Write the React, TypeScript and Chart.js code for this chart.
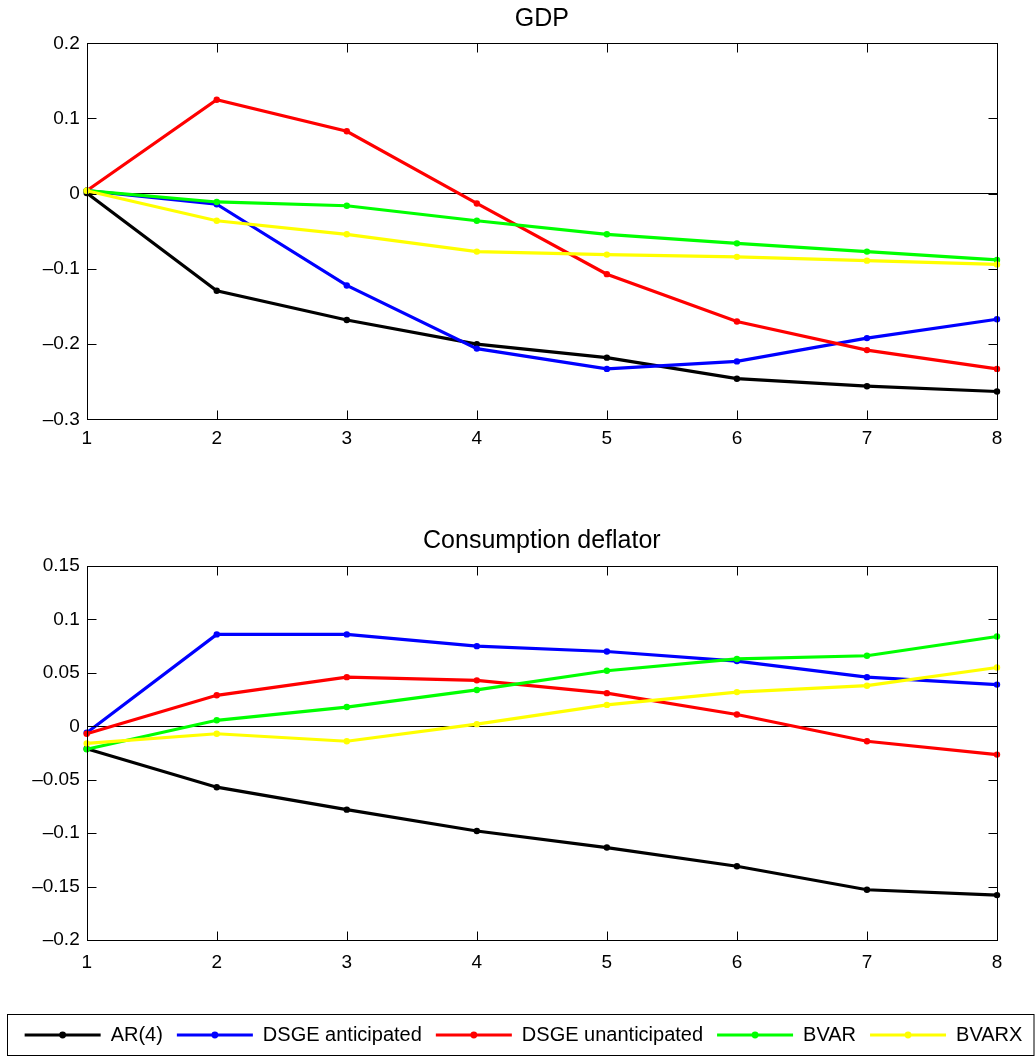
import React, { useEffect, useRef } from 'react';
import { Chart, registerables } from 'chart.js';

Chart.register(...registerables);

// ---------- data ----------
const horizons = ['1', '2', '3', '4', '5', '6', '7', '8'];
const seriesNames = ['AR(4)', 'DSGE anticipated', 'DSGE unanticipated', 'BVAR', 'BVARX'];
const seriesColors = ['#000000', '#0000ff', '#ff0000', '#00ff00', '#ffff00'];

const gdpAR4 = [0.001, -0.129, -0.168, -0.2, -0.218, -0.246, -0.256, -0.263];
const gdpDsgeAnticipated = [0.004, -0.014, -0.122, -0.206, -0.233, -0.223, -0.192, -0.167];
const gdpDsgeUnanticipated = [0.004, 0.125, 0.083, -0.013, -0.107, -0.17, -0.208, -0.233];
const gdpBvar = [0.004, -0.011, -0.016, -0.036, -0.054, -0.066, -0.077, -0.088];
const gdpBvarx = [0.004, -0.036, -0.054, -0.077, -0.081, -0.084, -0.089, -0.094];

const defAR4 = [-0.021, -0.057, -0.078, -0.098, -0.1135, -0.131, -0.153, -0.158];
const defDsgeAnticipated = [-0.006, 0.086, 0.086, 0.075, 0.07, 0.061, 0.046, 0.039];
const defDsgeUnanticipated = [-0.007, 0.029, 0.046, 0.043, 0.031, 0.011, -0.014, -0.0265];
const defBvar = [-0.0215, 0.0056, 0.018, 0.034, 0.052, 0.063, 0.066, 0.084];
const defBvarx = [-0.016, -0.007, -0.014, 0.002, 0.02, 0.032, 0.038, 0.055];

const gdpYTicks = [-0.3, -0.2, -0.1, 0, 0.1, 0.2];
const defYTicks = [-0.2, -0.15, -0.1, -0.05, 0, 0.05, 0.1, 0.15];

const gdpTitle = 'GDP';
const defTitle = 'Consumption deflator';

// ---------- styling ----------
const FONT = "'Liberation Sans', Arial, Helvetica, sans-serif";
const TICK_FONT = 19;
const TITLE_FONT = 25;
const LEGEND_FONT = 20;
const LEGEND_BOX_W = 76;
const INNER_TICK = 9;
const BOTTOM_SHIFT = 6; // horizontal offset of the lower canvas

const fmt = (v: number) => {
  const r = Math.round(v * 1000) / 1000;
  if (Math.abs(r) < 1e-9) return '0';
  return String(r).replace('-', '\u2013');
};

const makeDatasets = (values: number[][]) =>
  values.map((d, i) => ({
    label: seriesNames[i],
    data: d,
    borderColor: seriesColors[i],
    backgroundColor: seriesColors[i],
    borderWidth: 3.2,
    pointRadius: 3.2,
    pointHoverRadius: 3.2,
    pointBorderWidth: 0,
    pointBackgroundColor: seriesColors[i],
    tension: 0,
    fill: false,
    clip: false,
    order: values.length - i,
    xAxisID: 'x',
    yAxisID: 'y',
  }));

const boxPlugin = {
  id: 'matlabBox',
  afterDatasetsDraw(chart: any) {
    const { ctx, chartArea: a, scales } = chart;
    const xs = scales.x;
    const ys = scales.y;
    const L = Math.round(a.left) + 0.5;
    const R = Math.round(a.right) + 0.5;
    const T = Math.round(a.top) + 0.5;
    const B = Math.round(a.bottom) + 0.5;
    ctx.save();
    ctx.strokeStyle = '#000';
    ctx.lineWidth = 1;
    ctx.beginPath();
    xs.ticks.forEach((_t: any, i: number) => {
      const px = Math.round(xs.getPixelForTick(i)) + 0.5;
      ctx.moveTo(px, B);
      ctx.lineTo(px, B - INNER_TICK);
      ctx.moveTo(px, T);
      ctx.lineTo(px, T + INNER_TICK);
    });
    ys.ticks.forEach((t: any) => {
      const py = Math.round(ys.getPixelForValue(t.value)) + 0.5;
      ctx.moveTo(L, py);
      ctx.lineTo(L + INNER_TICK, py);
      ctx.moveTo(R, py);
      ctx.lineTo(R - INNER_TICK, py);
    });
    ctx.stroke();
    ctx.strokeRect(L, T, R - L, B - T);
    ctx.restore();
  },
};

const legendDecor = {
  id: 'legendDecor',
  afterDraw(chart: any) {
    const lg = chart.legend;
    if (!lg || !lg.legendHitBoxes || !lg.legendHitBoxes.length) return;
    const ctx = chart.ctx;
    const boxes = lg.legendHitBoxes;
    ctx.save();
    boxes.forEach((hb: any, i: number) => {
      ctx.fillStyle = seriesColors[i];
      ctx.beginPath();
      ctx.arc(hb.left + LEGEND_BOX_W / 2, hb.top + LEGEND_FONT / 2, 3.4, 0, Math.PI * 2);
      ctx.fill();
    });
    const cy = boxes[0].top + LEGEND_FONT / 2;
    const top = Math.round(cy - 21) + 0.5;
    ctx.strokeStyle = '#000';
    ctx.lineWidth = 1;
    const left = 7.5 - BOTTOM_SHIFT;
    const right = 1034 - BOTTOM_SHIFT;
    ctx.strokeRect(left, top, right - left, 41);
    ctx.restore();
  },
};

const buildConfig = (
  title: string,
  values: number[][],
  yTicks: number[],
  withLegend: boolean
): any => {
  const yScale: any = {
    type: 'linear',
    min: yTicks[0],
    max: yTicks[yTicks.length - 1],
    afterBuildTicks: (s: any) => {
      s.ticks = yTicks.map((v) => ({ value: v }));
    },
    grid: {
      color: (c: any) => (c.tick && Math.abs(c.tick.value) < 1e-9 ? '#000' : 'rgba(0,0,0,0)'),
      lineWidth: 1,
      drawTicks: false,
    },
    border: { display: false },
    ticks: {
      color: '#000',
      font: { family: FONT, size: TICK_FONT },
      padding: 7,
      callback: (v: any) => fmt(Number(v)),
    },
    afterFit: (s: any) => {
      s.width = withLegend ? 86.7 - BOTTOM_SHIFT : 86.7;
    },
  };
  const xScale: any = {
    type: 'category',
    offset: false,
    grid: { display: false },
    border: { display: false },
    ticks: {
      color: '#000',
      font: { family: FONT, size: TICK_FONT },
      padding: withLegend ? 3 : 0,
      maxRotation: 0,
      autoSkip: false,
    },
    afterFit: (s: any) => {
      s.height = withLegend ? 71 : 40.7;
    },
  };
  const scales: any = { x: xScale, y: yScale };
  if (withLegend) {
    scales.y2 = {
      type: 'linear',
      position: 'right',
      display: true,
      grid: { display: false },
      border: { display: false },
      ticks: { display: false },
      afterFit: (s: any) => {
        s.width = 38 + BOTTOM_SHIFT;
      },
    };
  }
  return {
    type: 'line',
    data: { labels: horizons, datasets: makeDatasets(values) },
    options: {
      responsive: false,
      animation: false,
      events: [],
      layout: {
        padding: withLegend
          ? { left: 0, right: 0, top: 0, bottom: 2 }
          : { left: 0, right: 38, top: 0, bottom: 0 },
      },
      plugins: {
        tooltip: { enabled: false },
        title: {
          display: true,
          text: title,
          fullSize: false,
          color: '#000',
          font: { family: FONT, size: TITLE_FONT, weight: 'normal' },
          padding: withLegend ? { top: 46.5, bottom: 9.5 } : { top: 4, bottom: 9.3 },
        },
        legend: withLegend
          ? {
              display: true,
              position: 'bottom',
              align: 'center',
              labels: {
                boxWidth: LEGEND_BOX_W,
                boxHeight: 3,
                padding: 14,
                color: '#000',
                font: { family: FONT, size: LEGEND_FONT },
                generateLabels: (chart: any) =>
                  chart.data.datasets.map((ds: any, i: number) => ({
                    text: ds.label,
                    fillStyle: seriesColors[i],
                    strokeStyle: seriesColors[i],
                    lineWidth: 0,
                    hidden: false,
                    datasetIndex: i,
                    fontColor: '#000',
                  })),
              },
            }
          : { display: false },
      },
      scales,
    },
    plugins: withLegend ? [boxPlugin, legendDecor] : [boxPlugin],
  };
};

export default function App() {
  const topRef = useRef<HTMLCanvasElement | null>(null);
  const botRef = useRef<HTMLCanvasElement | null>(null);

  useEffect(() => {
    if (!topRef.current || !botRef.current) return;
    const c1 = new Chart(
      topRef.current,
      buildConfig(
        gdpTitle,
        [gdpAR4, gdpDsgeAnticipated, gdpDsgeUnanticipated, gdpBvar, gdpBvarx],
        gdpYTicks,
        false
      )
    );
    const c2 = new Chart(
      botRef.current,
      buildConfig(
        defTitle,
        [defAR4, defDsgeAnticipated, defDsgeUnanticipated, defBvar, defBvarx],
        defYTicks,
        true
      )
    );
    return () => {
      c1.destroy();
      c2.destroy();
    };
  }, []);

  return (
    <div
      style={{
        position: 'absolute',
        left: 0,
        top: 0,
        width: 1035,
        height: 1057,
        background: '#fff',
        overflow: 'hidden',
      }}
    >
      <canvas
        ref={topRef}
        width={1035}
        height={460}
        style={{ position: 'absolute', left: 0, top: 0 }}
      />
      <canvas
        ref={botRef}
        width={1035}
        height={577}
        style={{ position: 'absolute', left: BOTTOM_SHIFT, top: 480 }}
      />
    </div>
  );
}
